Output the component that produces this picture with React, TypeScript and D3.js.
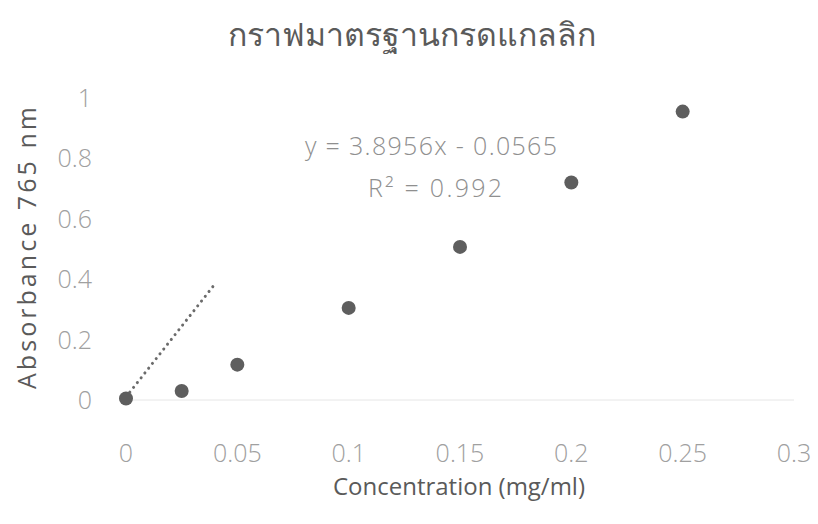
import { useEffect, useRef } from "react";
import * as d3 from "d3";

const CONC = [0, 0.025, 0.05, 0.1, 0.15, 0.2, 0.25];
const ABS = [0.005, 0.03, 0.117, 0.305, 0.507, 0.72, 0.955];
const X_TICKS = [0, 0.05, 0.1, 0.15, 0.2, 0.25, 0.3];
const Y_TICKS = [0, 0.2, 0.4, 0.6, 0.8, 1];
// trendline as drawn in the source (short dotted segment)
const TREND_X = [0, 0.0395];
const TREND_Y = [0.01, 0.38];

const TITLE = "กราฟมาตรฐานกรดแกลลิก";
const X_TITLE = "Concentration (mg/ml)";
const Y_TITLE = "Absorbance 765 nm";
const EQ = "y = 3.8956x - 0.0565";
const R2 = "R² = 0.992";

export default function App() {
  const ref = useRef<HTMLDivElement>(null);

  useEffect(() => {
    const container = d3.select(ref.current);
    container.selectAll("*").remove();

    const width = 818;
    const height = 524;
    const font = "'Open Sans', 'Noto Sans', sans-serif";

    const svg = container
      .append("svg")
      .attr("width", width)
      .attr("height", height)
      .style("display", "block")
      .style("background", "#fff");

    const x = d3.scaleLinear().domain([0, 0.3]).range([126, 794]);
    const y = d3.scaleLinear().domain([0, 1]).range([400, 98]);

    // baseline
    svg
      .append("line")
      .attr("x1", x(0))
      .attr("x2", x(0.3))
      .attr("y1", y(0))
      .attr("y2", y(0))
      .attr("stroke", "#e6e6e6")
      .attr("stroke-width", 1);

    svg
      .append("g")
      .selectAll("text")
      .data(X_TICKS)
      .join("text")
      .attr("x", (d) => x(d))
      .attr("y", 462)
      .attr("text-anchor", "middle")
      .attr("fill", "#a0a0a0")
      .style("font-family", font)
      .style("font-weight", 300)
      .style("font-size", "25px")
      .text((d) => String(d));

    svg
      .append("g")
      .selectAll("text")
      .data(Y_TICKS)
      .join("text")
      .attr("x", 92)
      .attr("y", (d) => y(d) + 9)
      .attr("text-anchor", "end")
      .attr("fill", "#a0a0a0")
      .style("font-family", font)
      .style("font-weight", 300)
      .style("font-size", "25px")
      .text((d) => String(d));

    const line = d3
      .line<number>()
      .x((d) => x(d))
      .y((_, i) => y(TREND_Y[i]));

    svg
      .append("path")
      .datum(TREND_X)
      .attr("fill", "none")
      .attr("stroke", "#6b6b6b")
      .attr("stroke-width", 3)
      .attr("stroke-linecap", "round")
      .attr("stroke-dasharray", "0.1 6")
      .attr("d", line);

    svg
      .append("g")
      .selectAll("circle")
      .data(CONC)
      .join("circle")
      .attr("cx", (d) => x(d))
      .attr("cy", (_, i) => y(ABS[i]))
      .attr("r", 7)
      .attr("fill", "#5e5e5e");

    svg
      .append("text")
      .attr("x", 431)
      .attr("y", 155)
      .attr("text-anchor", "middle")
      .attr("fill", "#8f8f8f")
      .style("font-family", font)
      .style("font-weight", 300)
      .style("font-size", "25px")
      .attr("textLength", 252)
      .text(EQ);

    svg
      .append("text")
      .attr("x", 435)
      .attr("y", 197)
      .attr("text-anchor", "middle")
      .attr("fill", "#8f8f8f")
      .style("font-family", font)
      .style("font-weight", 300)
      .style("font-size", "25px")
      .attr("textLength", 134)
      .text(R2);

    svg
      .append("text")
      .attr("x", 412)
      .attr("y", 46)
      .attr("text-anchor", "middle")
      .attr("fill", "#5a5a5a")
      .style("font-family", font)
      .style("font-size", "32px")
      .text(TITLE);

    svg
      .append("text")
      .attr("x", 459)
      .attr("y", 495)
      .attr("text-anchor", "middle")
      .attr("fill", "#5a5a5a")
      .style("font-family", font)
      .style("font-size", "24px")
      .attr("textLength", 252)
      .text(X_TITLE);

    svg
      .append("text")
      .attr("transform", "translate(36,248) rotate(-90)")
      .attr("text-anchor", "middle")
      .attr("fill", "#5a5a5a")
      .style("font-family", font)
      .style("font-size", "25px")
      .attr("textLength", 282)
      .text(Y_TITLE);
  }, []);

  return (
    <div ref={ref} style={{ position: "absolute", left: 0, top: 0 }} />
  );
}
